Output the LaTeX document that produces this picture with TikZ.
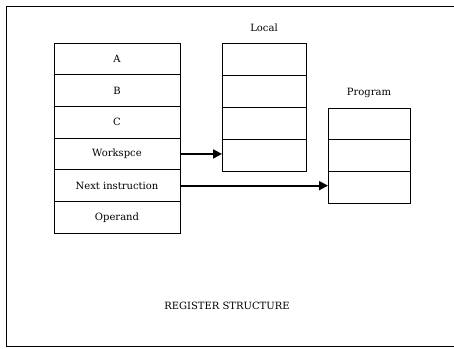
\documentclass[tikz,border=0pt]{standalone}
\usepackage{fontspec}
\setmainfont{DejaVu Serif}
\usetikzlibrary{arrows.meta,positioning}

\begin{document}
\begin{tikzpicture}[x=1pt,y=-1pt,
  cell/.style={draw, line width=1pt, inner sep=0pt, outer sep=0pt, font=\fontsize{10}{12}\selectfont},
  ptr/.style={-{Triangle[length=9pt,width=9pt]}, line width=1.9pt},
  lbl/.style={font=\fontsize{10}{12}\selectfont}]
\useasboundingbox (0,0) rectangle (454,348);
\draw[line width=1pt] (454,6) -- (6,6) -- (6,346) -- (454,346);
% register stack
\foreach \t [count=\i] in {A,B,C,Workspce,Next instruction,Operand} {
  \node[cell, minimum width=126pt, minimum height=31.7pt] (reg\i) at (117,{43+(\i-0.5)*31.7}) {\t};
}
% local
\foreach \i in {1,...,4} {
  \node[cell, minimum width=84pt, minimum height=32pt] (loc\i) at (264,{43+(\i-0.5)*32}) {};
}
\node[lbl] (loclabel) at (264,28) {Local};
% program
\foreach \i in {1,2,3} {
  \node[cell, minimum width=82pt, minimum height=31.7pt] (prog\i) at (369,{108+(\i-0.5)*31.7}) {};
}
\node[lbl] (proglabel) at (369,93) {Program};
\draw[ptr] (reg4.east) -- (reg4.east -| loc4.west);
\draw[ptr] (reg5.east) -- (reg5.east -| prog3.west);
\node[lbl] (title) at (227,306) {REGISTER STRUCTURE};
\end{tikzpicture}
\end{document}
